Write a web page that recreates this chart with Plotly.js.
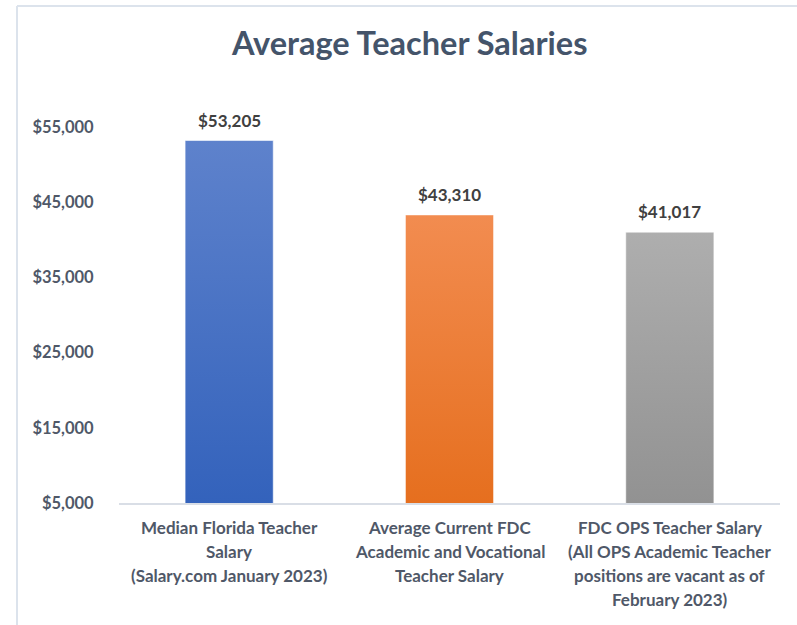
<!DOCTYPE html>
<html>
<head>
<meta charset="utf-8">
<script src="https://cdn.plot.ly/plotly-3.0.1.min.js"></script>
<style>
  html, body { margin: 0; padding: 0; background: #ffffff; }
  #chart { width: 797px; height: 625px; }
</style>
</head>
<body>
<div id="chart"></div>
<script>
// ---- data ----
const categoryKeys = ["median", "fdcAvg", "ops"];
const categoryLines = [
  ["Median Florida Teacher", "Salary", "(Salary.com January 2023)"],
  ["Average Current FDC", "Academic and Vocational", "Teacher Salary"],
  ["FDC OPS Teacher Salary", "(All OPS Academic Teacher", "positions are vacant as of", "February 2023)"]
];
const salaries = [53205, 43310, 41017];
const valueLabels = ["$53,205", "$43,310", "$41,017"];
const yTickValues = [5000, 15000, 25000, 35000, 45000, 55000];
const yTickLabels = ["$5,000", "$15,000", "$25,000", "$35,000", "$45,000", "$55,000"];
const gradients = [
  ["#5E82CC", "#2F5FBA"],
  ["#F28C50", "#E46B18"],
  ["#AEAEAE", "#8E8E8E"]
];

const FONT = "Lato, 'Open Sans', sans-serif";
const LABEL_COLOR = "#4F5868";

const trace = {
  type: "bar",
  x: categoryKeys,
  y: salaries,
  marker: {
    color: gradients.map(g => g[1]),
    line: { color: "rgba(255,255,255,0.55)", width: 1 }
  },
  hoverinfo: "none"
};

const annotations = [];
categoryKeys.forEach((k, i) => {
  annotations.push({
    x: k, y: salaries[i], xref: "x", yref: "y",
    text: valueLabels[i], showarrow: false,
    yanchor: "bottom", yshift: 8,
    font: { family: FONT, size: 17, color: "#404040", weight: 700 }
  });
  categoryLines[i].forEach((line, j) => {
    annotations.push({
      x: k, y: 0, xref: "x", yref: "paper",
      text: line, showarrow: false,
      yanchor: "middle", yshift: -(24 + j * 24),
      font: { family: FONT, size: 17, color: LABEL_COLOR, weight: 700 }
    });
  });
});

const layout = {
  width: 797, height: 625,
  margin: { l: 119, r: 17, t: 127, b: 122 },
  paper_bgcolor: "#ffffff", plot_bgcolor: "#ffffff",
  showlegend: false,
  bargap: 0.6,
  title: {
    text: "Average Teacher Salaries",
    x: 0.514, xanchor: "center",
    y: 1 - 44 / 625, yanchor: "middle", yref: "container",
    font: { family: FONT, size: 32.5, color: "#44546A", weight: 700 }
  },
  xaxis: {
    type: "category",
    showticklabels: false,
    showline: true, linecolor: "#D9DEE6", linewidth: 2,
    showgrid: false, zeroline: false, ticks: "", fixedrange: true
  },
  yaxis: {
    range: [5000, 55000],
    tickvals: yTickValues, ticktext: yTickLabels,
    showgrid: false, zeroline: false, showline: false,
    ticks: "outside", ticklen: 21, tickcolor: "rgba(0,0,0,0)",
    tickfont: { family: FONT, size: 16.5, color: LABEL_COLOR, weight: 700 },
    fixedrange: true
  },
  annotations: annotations,
  shapes: [
    { type: "line", xref: "paper", yref: "paper",
      x0: (17 - 119) / 661, x1: (17 - 119) / 661, y0: (503 - 6) / 376, y1: (503 - 640) / 376,
      line: { color: "#DCE3EC", width: 2 } },
    { type: "line", xref: "paper", yref: "paper",
      x0: (17 - 119) / 661, x1: (820 - 119) / 661, y0: (503 - 6) / 376, y1: (503 - 6) / 376,
      line: { color: "#DCE3EC", width: 2 } }
  ]
};

Plotly.newPlot("chart", [trace], layout, { displayModeBar: false, staticPlot: true }).then(gd => {
  const svg = gd.querySelector("svg.main-svg");
  const ns = "http://www.w3.org/2000/svg";
  let defs = svg.querySelector("defs");
  if (!defs) { defs = document.createElementNS(ns, "defs"); svg.insertBefore(defs, svg.firstChild); }
  gradients.forEach((g, i) => {
    const lg = document.createElementNS(ns, "linearGradient");
    lg.setAttribute("id", "barGrad" + i);
    lg.setAttribute("x1", "0"); lg.setAttribute("y1", "0");
    lg.setAttribute("x2", "0"); lg.setAttribute("y2", "1");
    const s1 = document.createElementNS(ns, "stop");
    s1.setAttribute("offset", "0"); s1.setAttribute("stop-color", g[0]);
    const s2 = document.createElementNS(ns, "stop");
    s2.setAttribute("offset", "1"); s2.setAttribute("stop-color", g[1]);
    lg.appendChild(s1); lg.appendChild(s2);
    defs.appendChild(lg);
  });
  gd.querySelectorAll(".bars .point path").forEach((p, i) => {
    p.style.fill = "url(#barGrad" + i + ")";
  });
});
</script>
</body>
</html>
